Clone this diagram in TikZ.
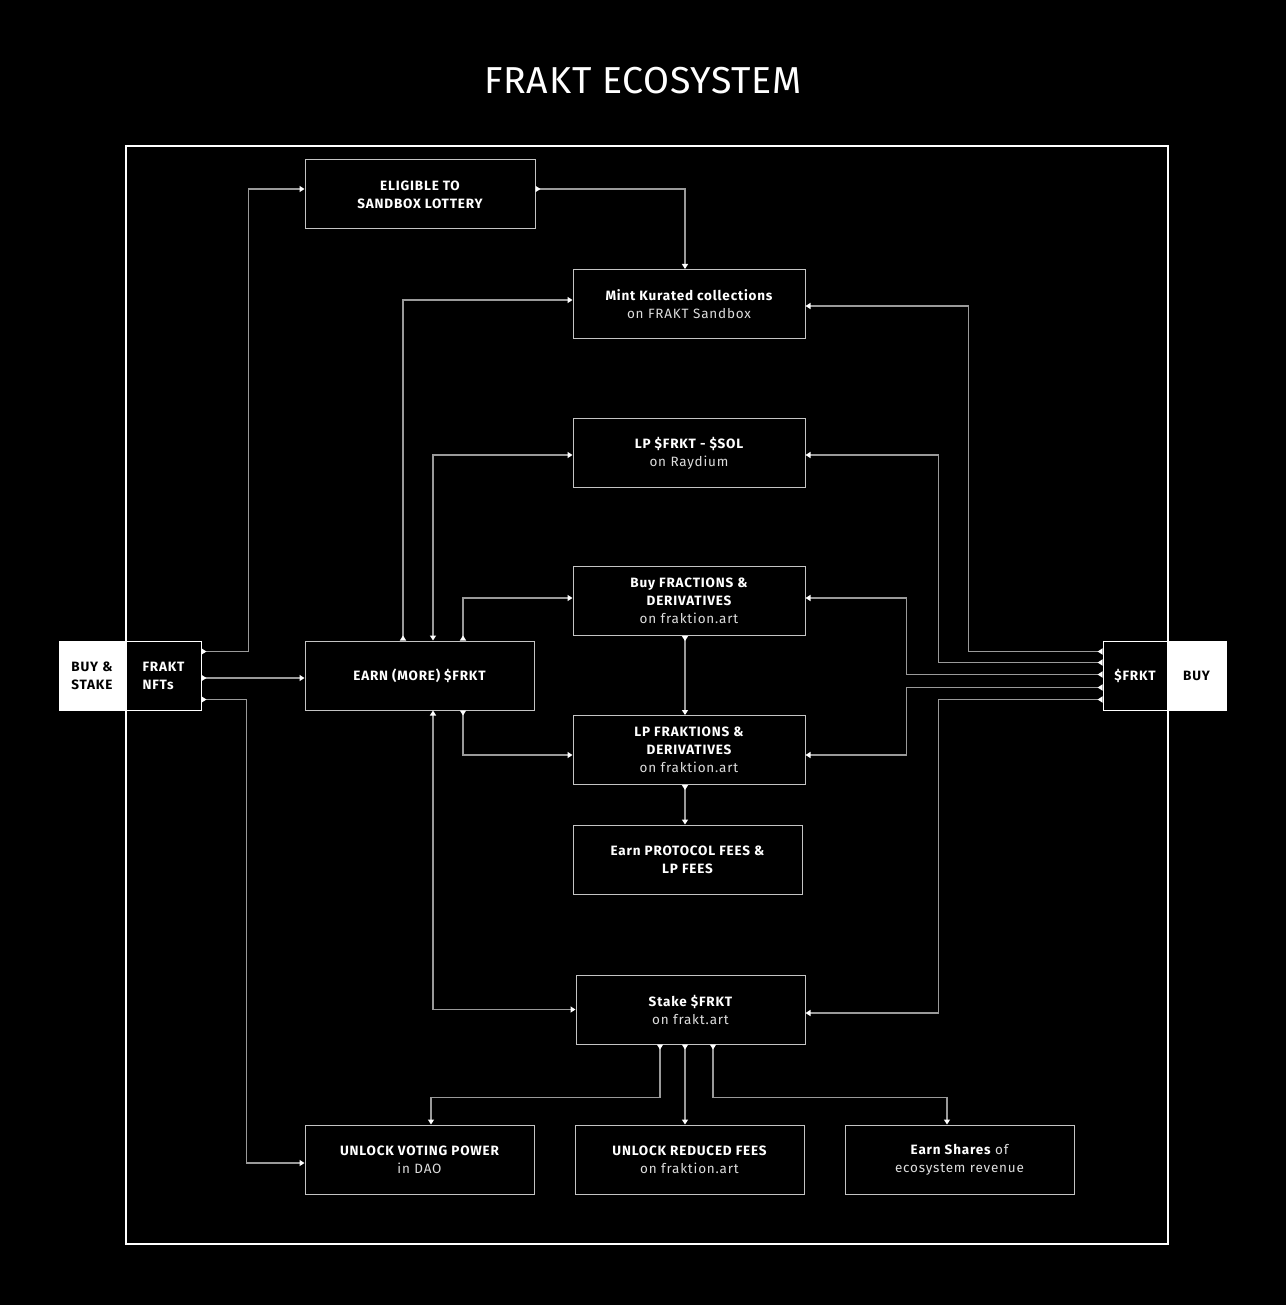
\documentclass[tikz,border=0pt]{standalone}
\usepackage{fontspec}
\setmainfont{Fira Sans}[LetterSpace=6]
\newfontfamily\titlefont{Fira Sans}[LetterSpace=2]
\usetikzlibrary{arrows.meta,calc}
\definecolor{conncol}{HTML}{9A9A9A}
\definecolor{boxcol}{HTML}{C4C4C4}
\definecolor{subcol}{HTML}{DDDDDD}
\tikzset{
  box/.style={draw=boxcol, line width=1pt, fill=black, text=white, align=center,
    minimum height=69pt, minimum width=229pt, inner sep=0pt,
    font=\fontsize{13.5}{18}\selectfont},
  conn/.style={draw=conncol, line width=1.5pt},
  tipA/.tip={Triangle[width=6pt,length=5pt,color=white]},
  tipS/.tip={Triangle[width=6pt,length=5pt,color=white,reversed]},
  arr/.style={conn,-{tipA}},
  sarr/.style={conn,{tipS}-{tipA}},
  darr/.style={conn,{tipA}-{tipA}},
}
\newcommand{\sub}[1]{{\mdseries\color{subcol}#1}}
\begin{document}
\begin{tikzpicture}[x=1pt,y=-1pt]
\useasboundingbox (0,0) rectangle (1286,1305);
\fill[black] (0,0) rectangle (1286,1305);
\node[text=white, font=\titlefont\fontsize{37.5}{40}\selectfont, anchor=base] (title) at (643,94) {FRAKT ECOSYSTEM};
\draw[white, line width=2pt] (126,146) rectangle (1168,1244);

% side boxes
\node[draw=white, fill=white, text=black, minimum width=66pt, minimum height=69pt, inner sep=0pt,
  font=\bfseries\fontsize{13.5}{18}\selectfont, align=left] (buystake) at (92,675.5) {BUY \&\\STAKE};
\node[draw=white, line width=1pt, fill=black, text=white, minimum width=75pt, minimum height=69pt, inner sep=0pt,
  font=\bfseries\fontsize{13.5}{18}\selectfont, align=left] (nfts) at (163.5,675.5) {FRAKT\\NFTs};
\node[draw=white, fill=white, text=black, minimum width=59pt, minimum height=69pt, inner sep=0pt,
  font=\bfseries\fontsize{13.5}{18}\selectfont] (buy) at (1196.5,675.5) {BUY};
\node[draw=white, line width=1pt, fill=black, text=white, minimum width=64pt, minimum height=69pt, inner sep=0pt,
  font=\bfseries\fontsize{13.5}{18}\selectfont] (frkt) at (1135,675.5) {\$FRKT};

% main boxes
\node[box, minimum width=230pt] (elig) at (420,194.5) {\bfseries ELIGIBLE TO\\\bfseries SANDBOX LOTTERY};
\node[box, minimum width=232pt] (mint) at (689,304) {\bfseries Mint Kurated collections\\\sub{on FRAKT Sandbox}};
\node[box, minimum width=232pt] (lpf) at (689,453) {\bfseries LP \$FRKT - \$SOL\\\sub{on Raydium}};
\node[box, minimum width=232pt] (bfr) at (689,601) {\bfseries Buy FRACTIONS \&\\\bfseries DERIVATIVES\\\sub{on fraktion.art}};
\node[box, minimum width=232pt] (lpk) at (689,750) {\bfseries LP FRAKTIONS \&\\\bfseries DERIVATIVES\\\sub{on fraktion.art}};
\node[box] (fees) at (687.5,859.5) {\bfseries Earn PROTOCOL FEES \&\\\bfseries LP FEES};
\node[box] (earn) at (419.5,675.5) {\bfseries EARN (MORE) \$FRKT};
\node[box] (stake) at (690.5,1009.5) {\bfseries Stake \$FRKT\\\sub{on frakt.art}};
\node[box] (vote) at (419.5,1159.5) {\bfseries UNLOCK VOTING POWER\\\sub{in DAO}};
\node[box] (red) at (689.5,1159.5) {\bfseries UNLOCK REDUCED FEES\\\sub{on fraktion.art}};
\node[box] (shares) at (959.5,1159.5) {{\bfseries Earn Shares} \sub{of}\\\sub{ecosystem revenue}};

% left connectors
\draw[sarr] ([yshift=-11pt]nfts.north east) -- ++(47,0) |- ([yshift=5.5pt]elig.west);
\draw[sarr] ([yshift=-2.5pt]nfts.east) -- ([yshift=-2.5pt]earn.west);
\draw[sarr] ([yshift=11pt]nfts.south east) -- ++(45,0) |- ([yshift=-3.5pt]vote.west);

% top
\draw[sarr] ([yshift=5.5pt]elig.east) -| ([xshift=-4pt]mint.north);
\draw[sarr] ([xshift=-16.5pt]earn.north) |- ([yshift=4pt]mint.west);
\draw[darr] ([yshift=-2pt]lpf.west) -| ([xshift=13.5pt]earn.north);
\draw[sarr] ([xshift=43.5pt]earn.north) |- ([yshift=3pt]bfr.west);
\draw[darr] (stake.west) -| ([xshift=13.5pt]earn.south);
\draw[sarr] ([xshift=43.5pt]earn.south) |- ([yshift=-5pt]lpk.west);

% middle column
\draw[sarr] ([xshift=-4pt]bfr.south) -- ([xshift=-4pt]lpk.north);
\draw[sarr] ([xshift=-4pt]lpk.south) -- ([xshift=-4pt]lpk.south |- fees.north);

% stake outputs
\draw[sarr] ([xshift=-30.5pt]stake.south) -- ++(0,53) -| ([xshift=11.5pt]vote.north);
\draw[sarr] ([xshift=-5.5pt]stake.south) -- ([xshift=-5.5pt]stake.south |- red.north);
\draw[sarr] ([xshift=22.5pt]stake.south) -- ++(0,53) -| ([xshift=-12.5pt]shares.north);

% right connectors
\draw[sarr] ([yshift=-11pt]frkt.north west) -- ++(-134,0) |- ([yshift=-2pt]mint.east);
\draw[sarr] ([yshift=-22pt]frkt.north west) -- ++(-164,0) |- ([yshift=-2pt]lpf.east);
\draw[sarr] ([yshift=-34pt]frkt.north west) -- ++(-196,0) |- ([yshift=3pt]bfr.east);
\draw[sarr] ([yshift=-47pt]frkt.north west) -- ++(-196,0) |- ([yshift=-5pt]lpk.east);
\draw[sarr] ([yshift=-59pt]frkt.north west) -- ++(-164,0) |- ([yshift=-3.5pt]stake.east);
\end{tikzpicture}
\end{document}
